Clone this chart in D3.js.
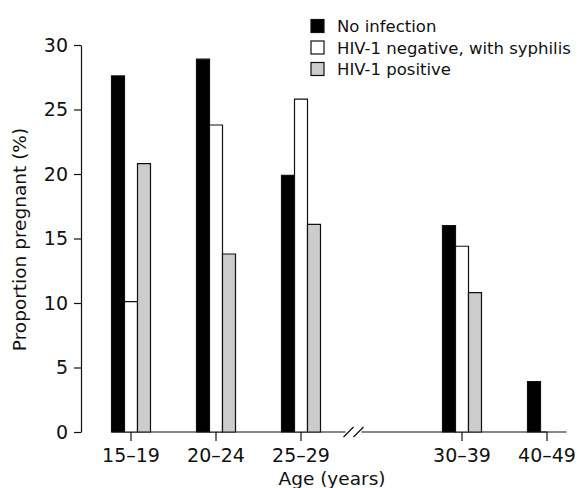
<!DOCTYPE html>
<html>
<head>
<meta charset="utf-8">
<script src="https://cdn.jsdelivr.net/npm/d3@7"></script>
<style>
  body { margin: 0; background: #fff; }
  text { font-family: "DejaVu Sans", "Liberation Sans", Arial, sans-serif; fill: #111; }
</style>
</head>
<body>
<div id="wrapper"></div>
<script>
// data
const ageGroups = ["15–19", "20–24", "25–29", "30–39", "40–49"];
const seriesNames = ["No infection", "HIV-1 negative, with syphilis", "HIV-1 positive"];
const noInfection = [27.6, 28.9, 19.9, 16.0, 3.9];
const syphilis = [10.1, 23.8, 25.8, 14.4, 0];
const hivPositive = [20.8, 13.8, 16.1, 10.8, 0];
const yTicks = [0, 5, 10, 15, 20, 25, 30];

const fills = ["#000000", "#ffffff", "#cccccc"];
const allSeries = [noInfection, syphilis, hivPositive];

function buildPlot() {
    const dimension = {
        width: 579,
        height: 488,
        margin: { top: 45, left: 81, bottom: 56, right: 12 }
    };
    const baseY = dimension.height - dimension.margin.bottom;

    const svg = d3.select("#wrapper").append("svg")
        .attr("width", dimension.width)
        .attr("height", dimension.height);

    // axis break between 25-29 and 30-39
    const breakGap = 0.894;
    const pos = (i) => i + (i >= 3 ? breakGap : 0);

    const xScaler = d3.scaleLinear()
        .domain([0, pos(4)])
        .range([131, 547]);

    const yScaler = d3.scaleLinear()
        .domain([0, 30])
        .range([baseY, dimension.margin.top]);

    const barW = 13;

    // y axis
    const yAxis = svg.append("g")
        .attr("transform", `translate(${dimension.margin.left},0)`)
        .call(d3.axisLeft(yScaler).tickValues(yTicks).tickSize(7).tickPadding(6).tickSizeOuter(0));
    yAxis.select(".domain").attr("stroke", "#111").attr("stroke-width", 1.2);
    yAxis.selectAll(".tick line").attr("stroke", "#111").attr("stroke-width", 1.2);
    yAxis.selectAll(".tick text")
        .style("font-size", "19px")
        .style("font-family", "'DejaVu Sans', sans-serif")
        .attr("fill", "#111");

    // x axis baseline with break
    const breakX = (xScaler(pos(2)) + xScaler(pos(3))) / 2 - 33;
    const lineG = svg.append("g").attr("stroke", "#111").attr("stroke-width", 1.2).attr("fill", "none");
    lineG.append("line")
        .attr("x1", xScaler(pos(0)) - 1.5 * barW).attr("x2", breakX - 3)
        .attr("y1", baseY).attr("y2", baseY);
    lineG.append("line")
        .attr("x1", breakX + 13).attr("x2", xScaler(pos(4)))
        .attr("y1", baseY).attr("y2", baseY);
    [breakX, breakX + 10].forEach(bx => {
        lineG.append("line")
            .attr("x1", bx - 5).attr("x2", bx + 5)
            .attr("y1", baseY + 5).attr("y2", baseY - 5);
    });

    // x ticks + labels
    const xt = svg.append("g");
    ageGroups.forEach((g, i) => {
        const cx = xScaler(pos(i));
        xt.append("line")
            .attr("x1", cx).attr("x2", cx)
            .attr("y1", baseY).attr("y2", baseY + 9)
            .attr("stroke", "#111").attr("stroke-width", 1.2);
        xt.append("text")
            .attr("x", cx).attr("y", baseY + 30)
            .attr("text-anchor", "middle")
            .style("font-size", "19px")
            .text(g);
    });

    // bars
    const bars = svg.append("g");
    allSeries.forEach((vals, s) => {
        bars.selectAll(null)
            .data(vals)
            .enter()
            .append("path")
            .attr("d", (d, i) => {
                const x0 = xScaler(pos(i)) + (s - 1.5) * barW;
                const y0 = yScaler(d);
                return `M${x0},${baseY}V${y0}H${x0 + barW}V${baseY}Z`;
            })
            .attr("fill", fills[s])
            .attr("stroke", "#111")
            .attr("stroke-width", 1.2);
    });

    // axis titles
    svg.append("text")
        .attr("transform", `translate(26,${(baseY + dimension.margin.top) / 2 + 1}) rotate(-90)`)
        .attr("text-anchor", "middle")
        .style("font-size", "18.5px")
        .text("Proportion pregnant (%)");

    svg.append("text")
        .attr("x", 332).attr("y", 485)
        .attr("text-anchor", "middle")
        .style("font-size", "18.5px")
        .text("Age (years)");

    // legend
    const legend = svg.append("g").attr("transform", "translate(311,26)");
    seriesNames.forEach((name, s) => {
        const row = legend.append("g").attr("transform", `translate(0,${s * 21.5})`);
        row.append("rect")
            .attr("y", -6.5)
            .attr("width", 13).attr("height", 13)
            .attr("fill", fills[s])
            .attr("stroke", "#111").attr("stroke-width", 1.2);
        row.append("text")
            .attr("x", 26).attr("y", 6)
            .style("font-size", "16.5px")
            .text(name);
    });
}

buildPlot();
</script>
</body>
</html>
